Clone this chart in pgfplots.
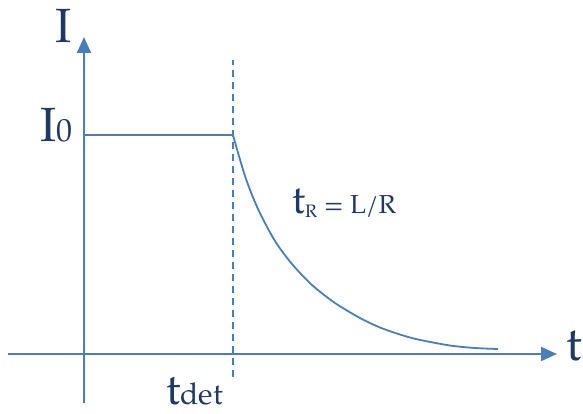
\documentclass[border=0pt]{standalone}
\usepackage{pgfplots}
\pgfplotsset{compat=1.18}
\usepackage{fontspec}
\setmainfont{TeX Gyre Pagella}
\usetikzlibrary{arrows.meta}
\definecolor{ln}{HTML}{4A7EBB}
\definecolor{tx}{HTML}{1F3864}
\begin{document}
\begin{tikzpicture}
\begin{axis}[
  width=583pt, height=413pt, scale only axis,
  xmin=0, xmax=583, ymin=0, ymax=413,
  hide axis, clip=false,
]
\addplot[draw=none] coordinates {(0,0) (583,413)};
% axes
\addplot[ln, line width=2.2pt, -{Triangle[length=16pt,width=14pt]}] coordinates {(8,59) (557,59)};
\addplot[ln, line width=2.2pt, -{Triangle[length=16pt,width=14pt]}] coordinates {(84,10) (84,376)};
% dashed
\addplot[ln, line width=1.8pt, dash pattern=on 7pt off 5pt] coordinates {(233,36) (233,353)};
% plateau
\addplot[ln, line width=1.8pt] coordinates {(84,278) (233,278)};
% decay
\addplot[ln, line width=1.8pt, smooth] coordinates {
(233,278) (245,237) (258,204) (275,172) (292,149) (312,128) (335,110)
(360,95) (380,85.5) (400,78.5) (418,73.5) (450,67.5) (475,65) (498,64)};
\node[tx, anchor=base, font=\fontsize{48}{48}\selectfont] at (axis cs:64,370) {I};
\node[tx, anchor=base west, inner sep=0pt, font=\fontsize{48}{48}\selectfont] at (axis cs:40,271) {I{\fontsize{32}{32}\selectfont 0}};
\node[tx, anchor=base west, inner sep=0pt, font=\fontsize{48}{48}\selectfont] at (axis cs:566,53) {t};
\node[tx, anchor=base west, inner sep=0pt, font=\fontsize{44}{44}\selectfont] at (axis cs:166,9) {t{\fontsize{30}{30}\selectfont det}};
\node[tx, anchor=base west, inner sep=0pt, font=\fontsize{40}{40}\selectfont] at (axis cs:292,200) {t{\fontsize{18}{18}\selectfont\raisebox{-4pt}{R}}{\fontsize{26}{26}\selectfont\ = L/R}};
\end{axis}
\end{tikzpicture}
\end{document}
